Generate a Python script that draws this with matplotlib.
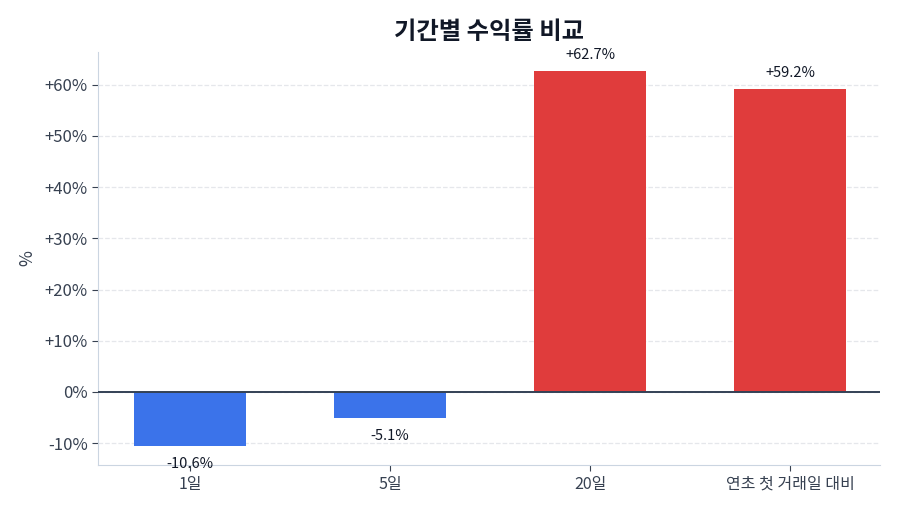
import numpy as np
import matplotlib
matplotlib.use("Agg")
import matplotlib.pyplot as plt

plt.rcParams['font.family'] = ['Noto Sans CJK KR', 'DejaVu Sans']

# data
periods = ['1일', '5일', '20일', '연초 첫 거래일 대비']
returns = [-10.6, -5.1, 62.7, 59.2]
yticks = [-10, 0, 10, 20, 30, 40, 50, 60]

UP = '#e03c3c'
DOWN = '#3b73ea'
TEXT = '#374151'

fig = plt.figure(figsize=(9, 5.14), dpi=100)
ax = fig.add_axes([0.109, 0.095, 0.869, 0.804])

x = np.arange(len(periods))
colors = [UP if v >= 0 else DOWN for v in returns]
ax.bar(x, returns, width=0.56, color=colors, zorder=3)

#value labels: above for gains, below for losses
for xi, v in zip(x, returns):
    if v >= 0:
        ax.text(xi, v + 1.8, f'+{v:.1f}%', ha='center', va='bottom', fontsize=10.5, color='#111827')
    else:
        ax.text(xi, v - 2.1, f'{v:.1f}%', ha='center', va='top', fontsize=10.5, color='#111827')

ax.axhline(0, color='#334155', linewidth=1.4, zorder=4)

ax.set_xlim(-0.46, 3.45)
ax.set_ylim(-14.3, 66.4)
ax.set_xticks(x)
ax.set_xticklabels(periods, fontsize=11.5, color=TEXT)
ax.set_yticks(yticks)
ax.set_yticklabels([f'+{t}%' if t > 0 else f'{t}%' for t in yticks], fontsize=12, color=TEXT)
ax.set_ylabel('%', fontsize=12.5, color=TEXT, labelpad=6)
ax.set_title('기간별 수익률 비교', fontsize=17.5, fontweight='bold', color='#111827', pad=9)

ax.grid(axis='y', linestyle='--', color='#e5e7eb', linewidth=0.9, zorder=0)
for s in ['top', 'right']:
    ax.spines[s].set_visible(False)
for s in ['left', 'bottom']:
    ax.spines[s].set_color('#cbd5e1')
ax.tick_params(colors='#374151', length=4)

fig.savefig('out.png', dpi=100)
